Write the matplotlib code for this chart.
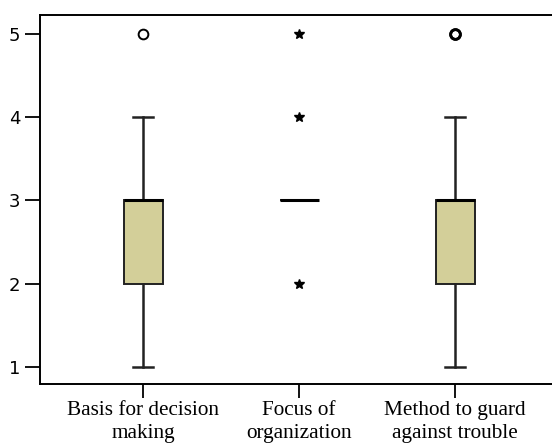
import matplotlib
matplotlib.use("Agg")
import matplotlib.pyplot as plt

# boxplot summaries
categories = ["Basis for decision\nmaking", "Focus of\norganization", "Method to guard\nagainst trouble"]
q1 = [2, 3, 2]
med = [3, 3, 3]
q3 = [3, 3, 3]
whis_lo = [1, 3, 1]
whis_hi = [4, 3, 4]
outliers = [[5], [], [5, 5]]      # circles
extremes = [[], [5, 4, 2], []]   # stars
y_ticks = [1, 2, 3, 4, 5]

BOX_FILL = "#D3CF99"
EDGE = "#222222"

fig = plt.figure(figsize=(5.52, 4.48), dpi=100)
ax = fig.add_axes([40 / 552, 1 - 384 / 448, 1 - 40 / 552, (384 - 15) / 448])

positions = list(range(1, len(categories) + 1))
stats = []
for i in range(len(categories)):
    stats.append({
        "q1": q1[i], "med": med[i], "q3": q3[i],
        "whislo": whis_lo[i], "whishi": whis_hi[i], "fliers": [],
    })

ax.bxp(
    stats, positions=positions, widths=0.25, patch_artist=True,
    showfliers=False,
    boxprops=dict(facecolor=BOX_FILL, edgecolor=EDGE, linewidth=1.4),
    medianprops=dict(color="black", linewidth=2.2),
    whiskerprops=dict(color=EDGE, linewidth=1.8),
    capprops=dict(color=EDGE, linewidth=1.8),
    capwidths=0.13,
)

for pos, vals in zip(positions, outliers):
    if vals:
        ax.plot([pos] * len(vals), vals, linestyle="none", marker="o",
                markersize=7, markerfacecolor="none", markeredgecolor="black",
                markeredgewidth=1.4 + 0.6 * (len(vals) - 1))
for pos, vals in zip(positions, extremes):
    if vals:
        ax.plot([pos] * len(vals), vals, linestyle="none", marker="*",
                markersize=7.5, color="black")

ax.set_xlim(0.34, 3.62)
ax.set_ylim(0.795, 5.229)
ax.set_yticks(y_ticks)
ax.set_yticklabels([str(v) for v in y_ticks], fontsize=13, family="DejaVu Sans")
ax.set_xticks(positions)
ax.set_xticklabels(categories, fontsize=15.3, family="Liberation Serif", linespacing=1.3)
ax.tick_params(axis="y", length=11, width=1.3, pad=3)
ax.tick_params(axis="x", length=10, width=1.3, pad=2)
ax.spines["right"].set_visible(False)
for side in ("left", "top", "bottom"):
    ax.spines[side].set_linewidth(1.4)

fig.savefig("out.png", dpi=100)
